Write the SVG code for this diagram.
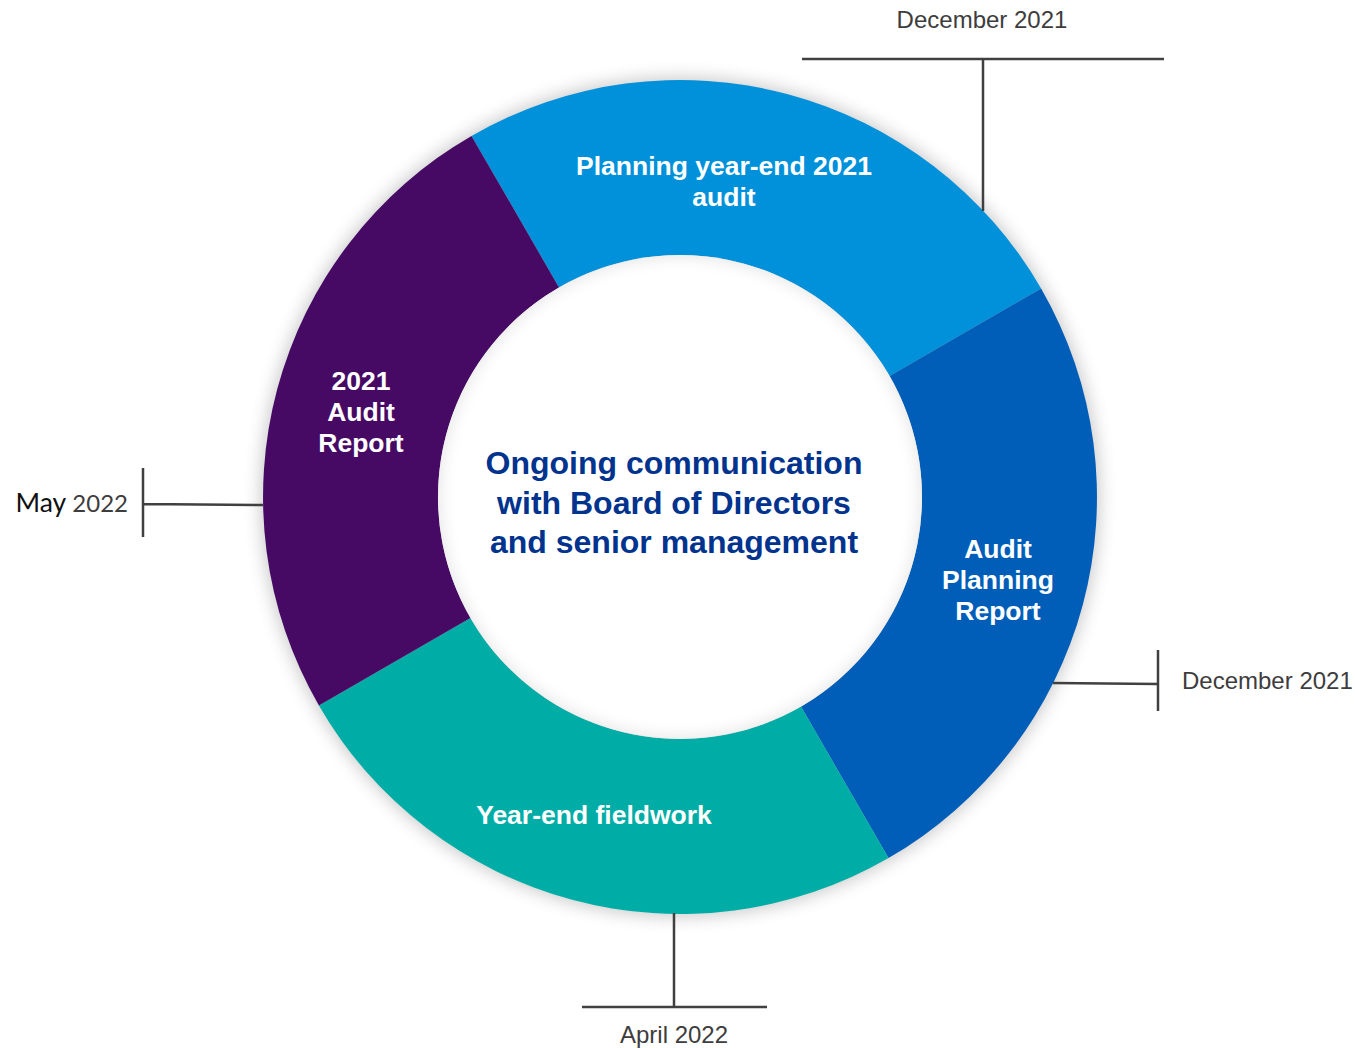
<svg xmlns="http://www.w3.org/2000/svg" width="1355" height="1048" viewBox="0 0 1355 1048">
  <defs>
    <style>
      .seg-label { font-family: "Liberation Sans", Arial, sans-serif; font-weight: bold; font-size: 26.5px; fill: #ffffff; text-anchor: middle; }
      .center-label { font-family: "Liberation Sans", Arial, sans-serif; font-weight: bold; font-size: 32px; fill: #00338D; text-anchor: middle; }
      .date { font-family: "Liberation Sans", Arial, sans-serif; font-size: 24px; fill: #3d3d3d; }
      .leader { stroke: #404040; stroke-width: 2.5; fill: none; }
    </style>
    <filter id="ringShadow" x="-20%" y="-20%" width="140%" height="140%">
      <feGaussianBlur stdDeviation="9"/>
    </filter>
    <clipPath id="holeClip">
      <circle cx="680" cy="497" r="242"/>
    </clipPath>
  </defs>

  <rect width="1355" height="1048" fill="#ffffff"/>

  <!-- soft shadow under the ring -->
  <circle cx="680" cy="497" r="419" fill="#000000" opacity="0.22" filter="url(#ringShadow)"/>

  <!-- ring segments -->
  <g id="seg-planning">
    <path d="M471.5 135.9 A417 417 0 0 1 1041.1 288.5 L889.6 376 A242 242 0 0 0 559 287.4 Z" fill="#0091DA"/>
    <text class="seg-label" x="724" y="175">Planning year-end 2021</text>
    <text class="seg-label" x="724" y="206">audit</text>
  </g>
  <g id="seg-planning-report">
    <path d="M1041.1 288.5 A417 417 0 0 1 888.5 858.1 L801 706.6 A242 242 0 0 0 889.6 376 Z" fill="#005EB8"/>
    <text class="seg-label" x="998" y="558">Audit</text>
    <text class="seg-label" x="998" y="589">Planning</text>
    <text class="seg-label" x="998" y="620">Report</text>
  </g>
  <g id="seg-fieldwork">
    <path d="M888.5 858.1 A417 417 0 0 1 318.9 705.5 L470.4 618 A242 242 0 0 0 801 706.6 Z" fill="#00ADA6"/>
    <text class="seg-label" x="594" y="824">Year-end fieldwork</text>
  </g>
  <g id="seg-audit-report">
    <path d="M318.9 705.5 A417 417 0 0 1 471.5 135.9 L559 287.4 A242 242 0 0 0 470.4 618 Z" fill="#470A64"/>
    <text class="seg-label" x="361" y="390">2021</text>
    <text class="seg-label" x="361" y="421">Audit</text>
    <text class="seg-label" x="361" y="452">Report</text>
  </g>

  <!-- centre hole with a faint inner shade -->
  <g id="center">
    <circle cx="680" cy="497" r="242" fill="#ffffff"/>
    <circle cx="680" cy="497" r="252" fill="none" stroke="#000000" stroke-width="20" opacity="0.12" filter="url(#ringShadow)" clip-path="url(#holeClip)"/>
    <text class="center-label" x="674" y="474">Ongoing communication</text>
    <text class="center-label" x="674" y="514">with Board of Directors</text>
    <text class="center-label" x="674" y="553">and senior management</text>
  </g>

  <!-- milestone leaders -->
  <g id="connectors">
    <path class="leader" d="M802 59 H1164 M983 59 V211"/>
    <path class="leader" d="M1053 683 L1158 684 M1158 650 V711"/>
    <path class="leader" d="M674 913 V1007 M582 1007 H767"/>
    <path class="leader" d="M143 504 L263 505 M143 468 V537"/>
  </g>

  <g id="dates">
    <text class="date" x="982" y="28" text-anchor="middle">December 2021</text>
    <text class="date" x="1182" y="689">December 2021</text>
    <text class="date" x="674" y="1043" text-anchor="middle">April 2022</text>
    <text x="128" y="512" text-anchor="end" font-family="Lato, 'Liberation Sans', sans-serif"><tspan font-size="26.5" fill="#111111">May </tspan><tspan font-size="24" fill="#3d3d3d">2022</tspan></text>
  </g>
</svg>
